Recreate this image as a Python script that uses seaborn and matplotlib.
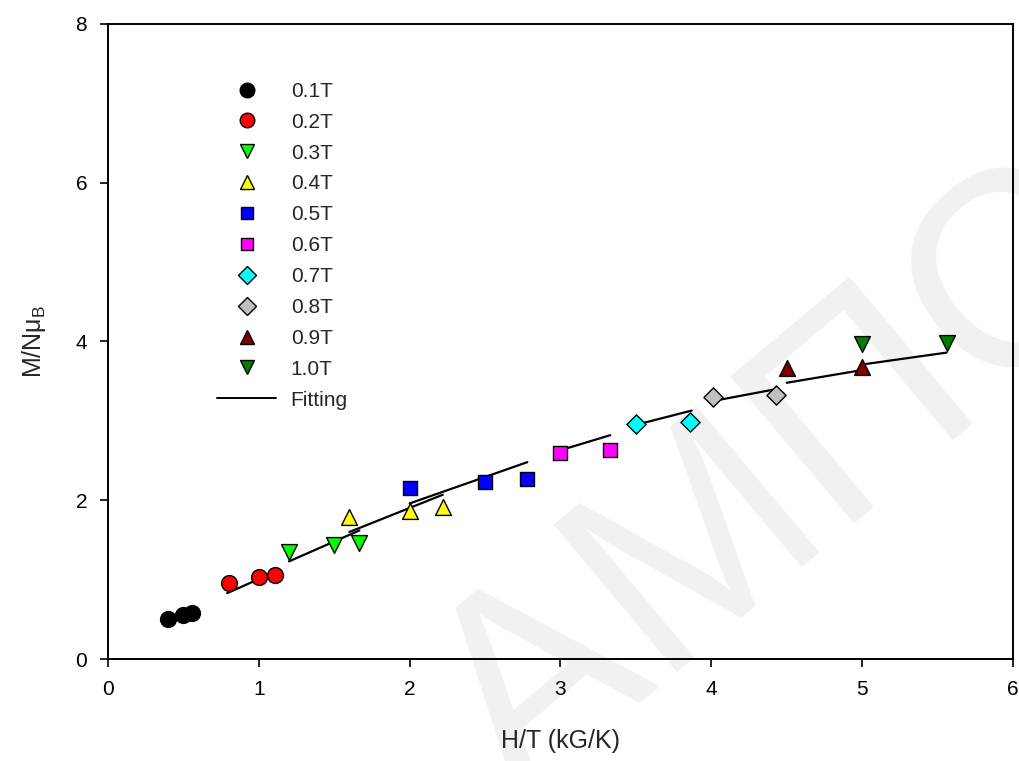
import matplotlib

matplotlib.use("Agg")

import matplotlib.pyplot as plt
import pandas as pd
import seaborn as sns
from matplotlib.lines import Line2D

# field labels and marker styles
fields = ["0.1T", "0.2T", "0.3T", "0.4T", "0.5T", "0.6T", "0.7T", "0.8T", "0.9T", "1.0T"]
markers = ["o", "o", "v", "^", "s", "s", "D", "D", "^", "v"]
colors = ["#000000", "#ff0000", "#00ff00", "#ffff00", "#0000ff",
          "#ff00ff", "#00ffff", "#c0c0c0", "#800000", "#008000"]

# measured points, H/T (kG/K) vs M/N mu_B
ht_points = [
    [0.40, 0.50, 0.556],
    [0.80, 1.00, 1.11],
    [1.20, 1.50, 1.667],
    [1.60, 2.00, 2.22],
    [2.00, 2.50, 2.78],
    [3.00, 3.33],
    [3.50, 3.86],
    [4.01, 4.43],
    [4.50, 5.00],
    [5.00, 5.56],
]
m_points = [
    [0.50, 0.55, 0.58],
    [0.96, 1.03, 1.06],
    [1.35, 1.44, 1.46],
    [1.79, 1.86, 1.91],
    [2.15, 2.23, 2.27],
    [2.60, 2.63],
    [2.96, 2.98],
    [3.30, 3.32],
    [3.66, 3.68],
    [3.97, 3.98],
]

# fitted segments
ht_fit = [
    [0.40, 0.556],
    [0.79, 1.11],
    [1.20, 1.667],
    [1.60, 2.22],
    [2.00, 2.78],
    [3.00, 3.33],
    [3.50, 3.87],
    [4.01, 4.43],
    [4.50, 5.00],
    [5.00, 5.56],
]
m_fit = [
    [0.47, 0.57],
    [0.83, 1.10],
    [1.23, 1.62],
    [1.60, 2.07],
    [1.96, 2.48],
    [2.63, 2.82],
    [2.95, 3.13],
    [3.25, 3.40],
    [3.48, 3.64],
    [3.71, 3.86],
]

sns.set_theme(style="ticks")
plt.rcParams["font.family"] = ["Liberation Sans", "DejaVu Sans"]
plt.rcParams["mathtext.fontset"] = "custom"
plt.rcParams["mathtext.rm"] = "Liberation Sans"
plt.rcParams["mathtext.it"] = "Liberation Sans"

fig = plt.figure(figsize=(10.2, 7.61), dpi=100)
ax = fig.add_axes([0.1059, 0.134, 0.8872, 0.8345])

# faint watermark behind the plot
ax.patch.set_alpha(0)
fig.text(0.77, 0.36, "AMПC", fontsize=200, color="#f1f1f1", rotation=40,
         ha="center", va="center", zorder=-5)

for xs, ys in zip(ht_fit, m_fit):
    seg = pd.DataFrame({"x": xs, "y": ys})
    sns.lineplot(data=seg, x="x", y="y", color="black", linewidth=1.6, ax=ax,
                 sort=False, zorder=2)

handles = []
for label, mk, col, xs, ys in zip(fields, markers, colors, ht_points, m_points):
    pts = pd.DataFrame({"x": xs, "y": ys})
    size = 130 if mk in ("o", "^", "v") else 95
    sns.scatterplot(data=pts, x="x", y="y", marker=mk, color=col, edgecolor="black",
                    linewidth=1.0, s=size, ax=ax, zorder=3, legend=False)
    handles.append(Line2D([], [], linestyle="none", marker=mk, markerfacecolor=col,
                          markeredgecolor="black", markeredgewidth=1.0,
                          markersize=10.5 if mk in ("o", "^", "v") else 9, label=label))
handles.append(Line2D([], [], color="black", linewidth=1.4, label="Fitting"))

ax.set_xlim(0, 6)
ax.set_ylim(0, 8)
ax.set_xticks(range(0, 7))
ax.set_yticks([0, 2, 4, 6, 8])
ax.set_xlabel("H/T (kG/K)", fontsize=18, labelpad=22)
ax.set_ylabel(r"M/N$\mathregular{\mu_B}$", fontsize=18, labelpad=20)
ax.tick_params(direction="out", length=6, width=1.2, labelsize=15, colors="black", pad=9)
for sp in ax.spines.values():
    sp.set_visible(True)
    sp.set_linewidth(1.4)
    sp.set_color("black")

ax.legend(handles=handles, loc="upper left", bbox_to_anchor=(0.1116, 0.922),
          frameon=False, fontsize=15, handlelength=2.8, handletextpad=0.72,
          labelspacing=0.57, borderaxespad=0)

fig.savefig("out.png", dpi=100)
